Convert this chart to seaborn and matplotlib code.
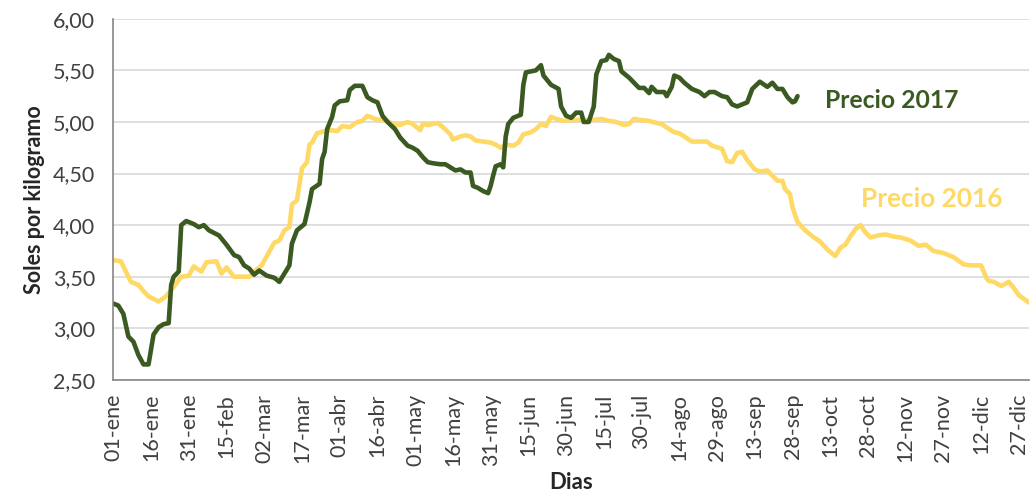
import numpy as np
import pandas as pd
import seaborn as sns
import matplotlib
matplotlib.use("Agg")
import matplotlib.pyplot as plt
from matplotlib.ticker import FuncFormatter

# dia del año (0 = 01-ene) y precio
dias_2016 = [0, 3, 5, 7, 10, 12, 14, 18, 21, 24, 27, 30, 32, 35, 37, 41, 43, 45, 48, 54,
             57, 59, 61, 64, 66, 68, 70, 71, 73, 75, 77, 78, 79, 81, 84, 87, 89, 91, 94, 97,
             99, 101, 104, 106, 109, 111, 114, 117, 119, 122, 123, 125, 129, 131, 134, 135, 138, 140, 142, 144,
             147, 150, 152, 154, 156, 159, 161, 163, 166, 168, 170, 172, 174, 176, 179, 183, 187, 191, 194, 197,
             200, 203, 205, 207, 209, 213, 216, 218, 221, 223, 225, 230, 233, 236, 238, 242, 244, 246, 248, 250,
             252, 255, 257, 260, 262, 264, 266, 267, 269, 270, 272, 275, 278, 281, 284, 287, 289, 291, 293, 295,
             297, 299, 301, 304, 307, 310, 313, 317, 320, 323, 326, 330, 334, 338, 341, 345, 347, 348, 350, 353,
             356, 358, 360, 364]
precio_2016 = [3.66, 3.65, 3.55, 3.45, 3.42, 3.36, 3.31, 3.26, 3.31, 3.40, 3.50, 3.51, 3.60, 3.55, 3.64, 3.65, 3.53, 3.59, 3.50, 3.50,
               3.57, 3.61, 3.70, 3.83, 3.85, 3.95, 3.98, 4.20, 4.24, 4.55, 4.61, 4.78, 4.80, 4.89, 4.91, 4.92, 4.91, 4.96, 4.95, 5.00,
               5.01, 5.06, 5.03, 5.02, 5.01, 4.98, 4.97, 5.00, 4.98, 4.92, 4.98, 4.97, 4.99, 4.95, 4.88, 4.83, 4.86, 4.87, 4.86, 4.82,
               4.81, 4.80, 4.78, 4.75, 4.78, 4.77, 4.80, 4.88, 4.90, 4.93, 4.98, 4.96, 5.05, 5.03, 5.01, 5.02, 5.02, 5.02, 5.03, 5.01,
               5.00, 4.97, 4.98, 5.03, 5.02, 5.01, 4.99, 4.98, 4.93, 4.90, 4.89, 4.81, 4.81, 4.81, 4.77, 4.74, 4.62, 4.61, 4.70, 4.71,
               4.63, 4.54, 4.52, 4.53, 4.48, 4.43, 4.43, 4.35, 4.30, 4.17, 4.03, 3.95, 3.89, 3.84, 3.76, 3.70, 3.78, 3.81, 3.89, 3.96,
               4.00, 3.93, 3.88, 3.90, 3.91, 3.89, 3.88, 3.85, 3.80, 3.81, 3.75, 3.73, 3.69, 3.62, 3.61, 3.61, 3.49, 3.46, 3.45, 3.41,
               3.45, 3.39, 3.32, 3.25]

dias_2017 = [0, 2, 4, 6, 8, 10, 12, 14, 16, 18, 20, 22, 23, 24, 26, 27, 29, 32, 34, 36,
             38, 42, 45, 48, 50, 52, 54, 56, 58, 61, 64, 66, 68, 70, 71, 73, 76, 78, 79, 82,
             83, 84, 85, 87, 88, 90, 93, 94, 96, 99, 101, 103, 105, 107, 109, 112, 114, 117, 119, 121,
             123, 125, 127, 130, 132, 134, 136, 138, 140, 142, 143, 145, 147, 149, 150, 151, 152, 154, 155, 156,
             157, 159, 162, 163, 164, 166, 168, 170, 171, 174, 177, 178, 180, 182, 184, 186, 187, 189, 191, 192,
             194, 196, 197, 199, 201, 202, 205, 207, 209, 211, 213, 214, 216, 219, 220, 222, 223, 225, 227, 230,
             233, 235, 237, 239, 242, 244, 246, 248, 250, 252, 254, 257, 260, 262, 264, 266, 268, 270, 271, 272]
precio_2017 = [3.24, 3.22, 3.14, 2.92, 2.87, 2.74, 2.65, 2.65, 2.94, 3.01, 3.04, 3.05, 3.42, 3.50, 3.55, 4.00, 4.04, 4.01, 3.98, 4.00,
               3.95, 3.90, 3.81, 3.71, 3.69, 3.61, 3.58, 3.52, 3.56, 3.51, 3.49, 3.45, 3.53, 3.61, 3.82, 3.95, 4.01, 4.22, 4.35, 4.40,
               4.64, 4.71, 4.93, 5.05, 5.16, 5.20, 5.21, 5.31, 5.35, 5.35, 5.24, 5.21, 5.19, 5.06, 5.00, 4.93, 4.85, 4.77, 4.75, 4.72,
               4.66, 4.61, 4.60, 4.59, 4.59, 4.56, 4.53, 4.54, 4.51, 4.51, 4.38, 4.36, 4.33, 4.31, 4.38, 4.48, 4.57, 4.59, 4.56, 4.86,
               4.98, 5.04, 5.07, 5.36, 5.48, 5.49, 5.50, 5.55, 5.45, 5.36, 5.32, 5.15, 5.06, 5.04, 5.09, 5.09, 5.00, 5.00, 5.15, 5.46,
               5.59, 5.60, 5.65, 5.61, 5.59, 5.49, 5.43, 5.38, 5.33, 5.33, 5.28, 5.34, 5.29, 5.29, 5.25, 5.34, 5.45, 5.43, 5.38, 5.32,
               5.29, 5.25, 5.29, 5.29, 5.25, 5.24, 5.17, 5.15, 5.17, 5.19, 5.32, 5.39, 5.34, 5.38, 5.32, 5.32, 5.24, 5.19, 5.20, 5.25]

etiquetas_x = ["01-ene", "16-ene", "31-ene", "15-feb", "02-mar", "17-mar", "01-abr", "16-abr", "01-may",
               "16-may", "31-may", "15-jun", "30-jun", "15-jul", "30-jul", "14-ago", "29-ago", "13-sep",
               "28-sep", "13-oct", "28-oct", "12-nov", "27-nov", "12-dic", "27-dic"]

verde = "#3a5a22"
amarillo = "#ffd966"

sns.set_style("white")
plt.rcParams["font.family"] = ["Lato", "DejaVu Sans"]

df16 = pd.DataFrame({"dia": dias_2016, "precio": precio_2016})
df17 = pd.DataFrame({"dia": dias_2017, "precio": precio_2017})

fig = plt.figure(figsize=(10.3, 4.94), dpi=100)
ax = fig.add_axes([0.110, 0.231, 0.889, 0.731])

sns.lineplot(data=df16, x="dia", y="precio", color=amarillo, linewidth=3.3, ax=ax)
sns.lineplot(data=df17, x="dia", y="precio", color=verde, linewidth=3.3, ax=ax)

ax.set_xlim(0, 364)
ax.set_ylim(2.5, 6.0)
ax.set_yticks(np.arange(2.5, 6.01, 0.5))
ax.yaxis.set_major_formatter(FuncFormatter(lambda v, p: f"{v:.2f}".replace(".", ",")))
ax.set_xticks(np.arange(0, 365, 15))
ax.set_xticklabels(etiquetas_x, rotation=90)

ax.grid(axis="y", color="#d9d9d9", linewidth=1.2)
ax.grid(axis="x", visible=False)
for s in ["top", "right"]:
    ax.spines[s].set_visible(False)
for s in ["left", "bottom"]:
    ax.spines[s].set_color("#868686")
    ax.spines[s].set_linewidth(1.2)
ax.tick_params(axis="both", direction="out", length=5, width=1.2, color="#868686",
               labelsize=15.5, labelcolor="#404040")
ax.tick_params(axis="y", pad=8)
ax.tick_params(axis="x", pad=5)

ax.set_xlabel("Dias", fontsize=16, fontweight="bold", color="#262626", labelpad=4)
ax.set_ylabel("Soles por kilogramo", fontsize=15.5, fontweight="bold", color="#262626", labelpad=6)

ax.text(283, 5.134, "Precio 2017", color=verde, fontsize=17.8, fontweight="bold", ha="left", va="baseline")
ax.text(297.4, 4.18, "Precio 2016", color=amarillo, fontsize=18.8, fontweight="bold", ha="left", va="baseline")

fig.savefig("out.png", dpi=100)
